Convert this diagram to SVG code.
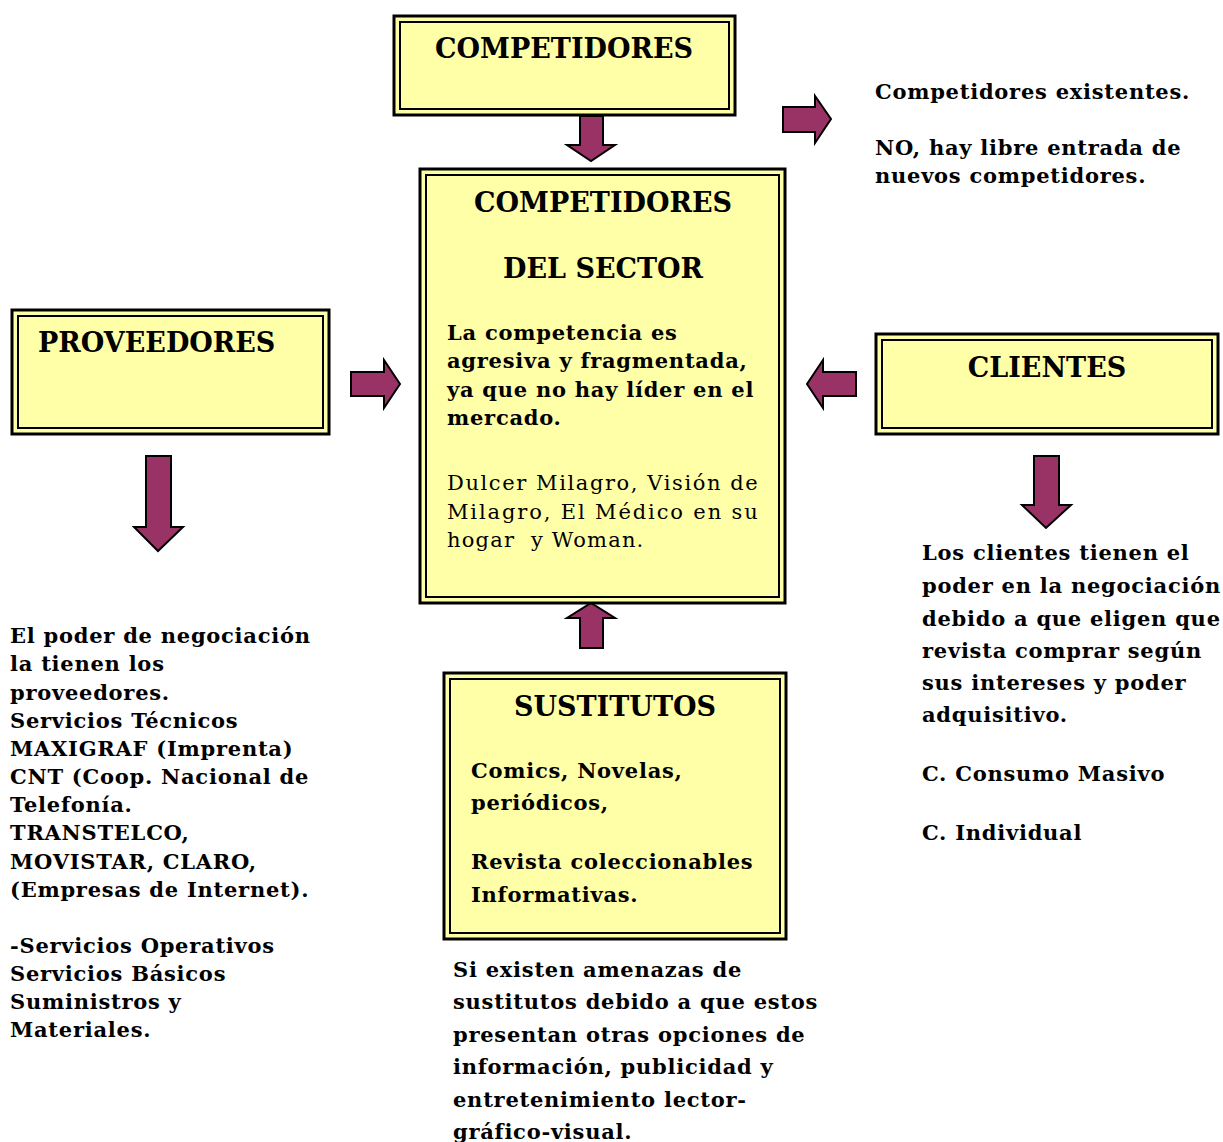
<svg xmlns="http://www.w3.org/2000/svg" width="1223" height="1142" viewBox="0 0 1223 1142">
<style>
.outer{fill:#FFFFA8;stroke:#000;stroke-width:3}
.inner{fill:none;stroke:#000;stroke-width:2}
.arr{fill:#993366;stroke:#000;stroke-width:2;stroke-linejoin:miter}
text{font-family:"DejaVu Serif","Liberation Serif",serif;font-weight:bold;fill:#000}
.title{font-size:27px}
.t{font-size:21px;letter-spacing:0.75px}
.n{font-size:21px;font-weight:normal;letter-spacing:1.2px}
</style>
<rect width="1223" height="1142" fill="#fff"/>
<g id="connectors">
<polygon class="arr" points="580,116 603,116 603,145 615,145 591,161 567,145 580,145"/>
<polygon class="arr" points="783,107 815,107 815,96 831,119 815,143 815,132 783,132"/>
<polygon class="arr" points="351,372 384,372 384,360 400,384 384,408 384,396 351,396"/>
<polygon class="arr" points="856,372 823,372 823,360 807,384 823,408 823,396 856,396"/>
<polygon class="arr" points="146,456 171,456 171,527 183,527 158,551 134,527 146,527"/>
<polygon class="arr" points="1034,456 1059,456 1059,505 1071,505 1046,528 1022,505 1034,505"/>
<polygon class="arr" points="580,648 603,648 603,618 615,618 591,603 567,618 580,618"/>
</g>
<g id="competidores">
<rect class="outer" x="394" y="16" width="341" height="99"/>
<rect class="inner" x="400" y="22" width="329" height="87"/>
<text class="title" x="564" y="58" text-anchor="middle">COMPETIDORES</text>
</g>
<g id="competidores-existentes">
<text class="t" x="875" y="99">Competidores existentes.</text>
<text class="t" x="875" y="155">NO, hay libre entrada de</text>
<text class="t" x="875" y="183">nuevos competidores.</text>
</g>
<g id="sector">
<rect class="outer" x="420" y="169" width="365" height="434"/>
<rect class="inner" x="426" y="175" width="353" height="422"/>
<text class="title" x="603" y="212" text-anchor="middle">COMPETIDORES</text>
<text class="title" x="603" y="278" text-anchor="middle">DEL SECTOR</text>
<text class="t" x="447" y="340">La competencia es</text>
<text class="t" x="447" y="368">agresiva y fragmentada,</text>
<text class="t" x="447" y="397">ya que no hay líder en el</text>
<text class="t" x="447" y="425">mercado.</text>
<text class="n" x="447" y="490" textLength="312" lengthAdjust="spacing">Dulcer Milagro, Visión de</text>
<text class="n" x="447" y="519" textLength="312" lengthAdjust="spacing">Milagro, El Médico en su</text>
<text class="n" x="447" y="547" xml:space="preserve">hogar  y Woman.</text>
</g>
<g id="proveedores">
<rect class="outer" x="12" y="310" width="317" height="124"/>
<rect class="inner" x="18" y="316" width="305" height="112"/>
<text class="title" x="38" y="352">PROVEEDORES</text>
</g>
<g id="clientes">
<rect class="outer" x="876" y="334" width="342" height="100"/>
<rect class="inner" x="882" y="340" width="330" height="88"/>
<text class="title" x="1047" y="377" text-anchor="middle">CLIENTES</text>
</g>
<g id="proveedores-texto">
<text class="t" x="10" y="643">El poder de negociación</text>
<text class="t" x="10" y="671">la tienen los</text>
<text class="t" x="10" y="700">proveedores.</text>
<text class="t" x="10" y="728">Servicios Técnicos</text>
<text class="t" x="10" y="756">MAXIGRAF (Imprenta)</text>
<text class="t" x="10" y="784">CNT (Coop. Nacional de</text>
<text class="t" x="10" y="812">Telefonía.</text>
<text class="t" x="10" y="840">TRANSTELCO,</text>
<text class="t" x="10" y="869">MOVISTAR, CLARO,</text>
<text class="t" x="10" y="897">(Empresas de Internet).</text>
<text class="t" x="10" y="953">-Servicios Operativos</text>
<text class="t" x="10" y="981">Servicios Básicos</text>
<text class="t" x="10" y="1009">Suministros y</text>
<text class="t" x="10" y="1037">Materiales.</text>
</g>
<g id="clientes-texto">
<text class="t" x="922" y="560">Los clientes tienen el</text>
<text class="t" x="922" y="593">poder en la negociación</text>
<text class="t" x="922" y="626">debido a que eligen que</text>
<text class="t" x="922" y="658">revista comprar según</text>
<text class="t" x="922" y="690">sus intereses y poder</text>
<text class="t" x="922" y="722">adquisitivo.</text>
<text class="t" x="922" y="781">C. Consumo Masivo</text>
<text class="t" x="922" y="840">C. Individual</text>
</g>
<g id="sustitutos">
<rect class="outer" x="444" y="673" width="342" height="266"/>
<rect class="inner" x="450" y="679" width="330" height="254"/>
<text class="title" x="615" y="716" text-anchor="middle">SUSTITUTOS</text>
<text class="t" x="471" y="778">Comics, Novelas,</text>
<text class="t" x="471" y="810">periódicos,</text>
<text class="t" x="471" y="869">Revista coleccionables</text>
<text class="t" x="471" y="902">Informativas.</text>
</g>
<g id="sustitutos-texto">
<text class="t" x="453" y="977">Si existen amenazas de</text>
<text class="t" x="453" y="1009">sustitutos debido a que estos</text>
<text class="t" x="453" y="1042">presentan otras opciones de</text>
<text class="t" x="453" y="1074">información, publicidad y</text>
<text class="t" x="453" y="1107">entretenimiento lector-</text>
<text class="t" x="453" y="1139">gráfico-visual.</text>
</g>
</svg>
